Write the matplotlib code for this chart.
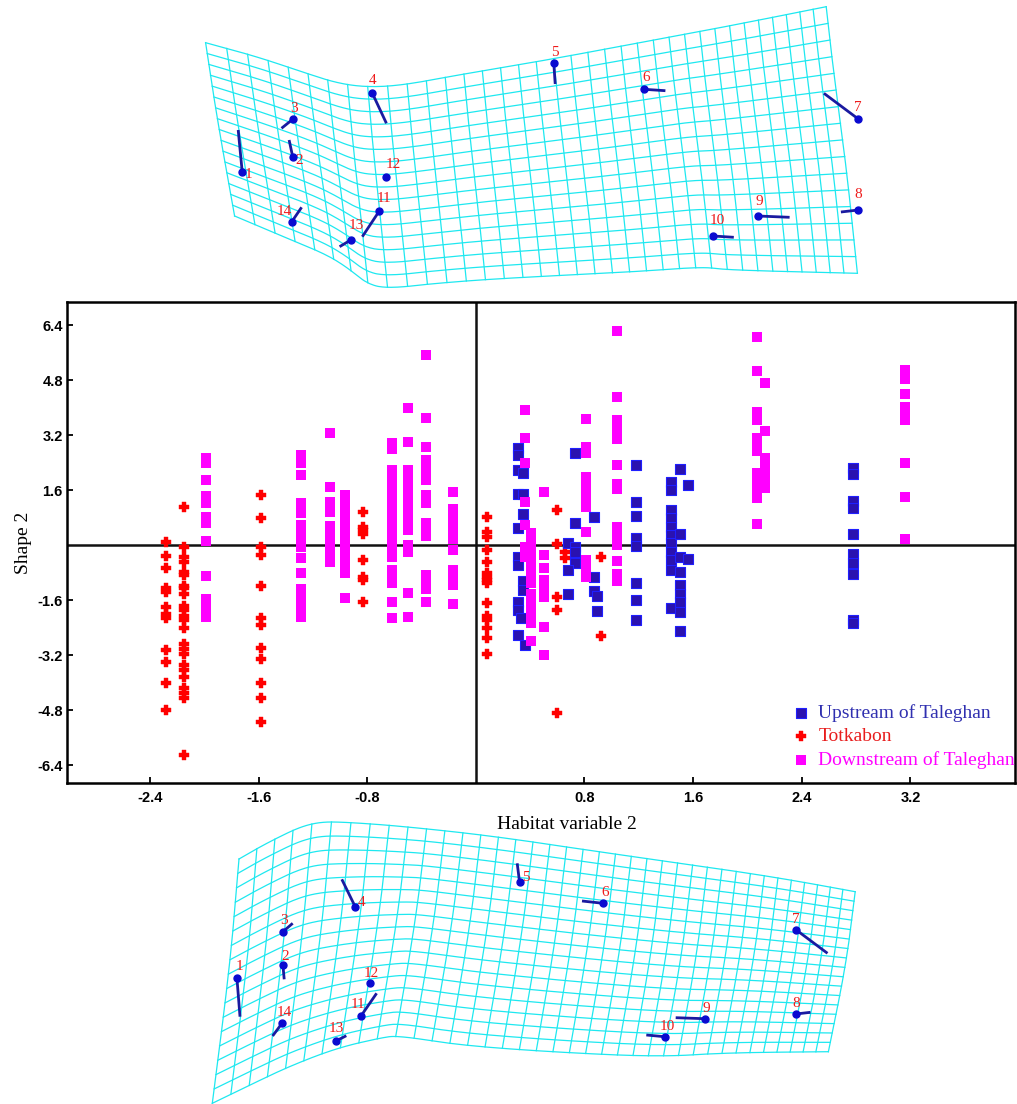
import numpy as np
import matplotlib.pyplot as plt

# ---------------- scatter data: Habitat variable 2 (x) vs Shape 2 (y) ----------------
# Upstream of Taleghan
up_x = [0.31, 0.31, 0.31, 0.35, 0.31, 0.35, 0.35, 0.31, 0.31, 0.31, 0.35, 0.35, 0.31, 0.31, 0.33, 0.31, 0.36,
        0.73, 0.73, 0.68, 0.73, 0.73, 0.73, 0.68, 0.68,
        0.87, 0.87, 0.87, 0.89, 0.89]
up_y = [2.81, 2.62, 2.18, 2.09, 1.50, 1.48, 0.90, 0.51, -0.35, -0.58, -1.05, -1.30, -1.65, -1.89, -2.13, -2.62, -2.91,
        2.67, 0.65, 0.07, -0.05, -0.19, -0.53, -0.73, -1.41,
        0.82, -0.93, -1.34, -1.47, -1.92]
up_cols = [1.18, 1.44, 1.50, 1.56, 2.78]
up_vals = [[2.32, 1.25, 0.85, 0.21, -0.03, -1.10, -1.59, -2.18],
           [1.84, 1.60, 1.02, 0.78, 0.53, 0.29, 0.05, -0.19, -0.44, -0.73, -1.82],
           [2.22, 0.33, -0.34, -0.78, -1.17, -1.41, -1.65, -1.94, -2.51],
           [1.74, -0.41],
           [2.23, 2.07, 1.29, 1.07, 0.33, -0.27, -0.53, -0.83, -2.18, -2.28]]

# Totkabon
tot_cols = [-2.28, -2.15, -1.585, -0.83, 0.085, 0.60, 0.66, 0.92]
tot_vals = [[0.10, -0.31, -0.68, -1.24, -1.36, -1.79, -2.01, -2.13, -3.05, -3.39, -4.01, -4.80],
            [1.11, -0.05, -0.36, -0.48, -0.78, -0.87, -1.18, -1.26, -1.41, -1.76, -1.89, -2.07, -2.18,
             -2.42, -2.88, -3.01, -3.17, -3.49, -3.64, -3.83, -4.17, -4.31, -4.46, -6.11],
            [1.45, 0.78, -0.07, -0.29, -1.18, -2.13, -2.33, -2.98, -3.32, -4.01, -4.46, -5.14],
            [0.97, 0.53, 0.44, 0.32, -0.42, -0.92, -1.02, -1.65],
            [0.82, 0.39, 0.24, -0.13, -0.49, -0.80, -0.92, -1.02, -1.11, -1.68, -2.07, -2.18, -2.41, -2.69, -3.17],
            [1.02, 0.03, -1.52, -1.89, -4.88],
            [-0.19, -0.39],
            [-0.34, -2.64]]

# Downstream of Taleghan
down_cols = [-1.99, -1.29, -1.07, -0.96, -0.62, -0.50, -0.37, -0.165, 0.36, 0.41, 0.50, 0.81, 1.04, 2.07, 2.13, 3.16]
down_vals = [[2.52, 2.38, 1.88, 1.43, 1.23, 0.83, 0.63, 0.11, -0.91, -1.58, -1.79, -2.09],
             [2.62, 2.39, 2.03, 1.21, 0.92, 0.58, 0.32, 0.05, -0.07, -0.38, -0.82, -1.29, -1.58, -1.87, -2.10],
             [3.27, 1.70, 1.26, 0.97, 0.56, 0.29, 0.0, -0.24, -0.50],
             [1.45, 1.16, 0.87, 0.58, 0.29, 0.0, -0.29, -0.53, -0.82, -1.53],
             [2.98, 2.78, 2.18, 1.89, 1.60, 1.31, 1.02, 0.73, 0.44, 0.15, -0.15, -0.34, -0.73, -0.97, -1.11, -1.65, -2.12],
             [4.00, 3.01, 2.18, 1.89, 1.60, 1.31, 1.02, 0.73, 0.44, 0.0, -0.19, -1.38, -2.10],
             [5.53, 3.69, 2.84, 2.47, 2.18, 1.89, 1.45, 1.21, 0.63, 0.39, 0.27, -0.87, -1.11, -1.28, -1.67],
             [1.54, 1.05, 0.76, 0.47, 0.17, -0.15, -0.73, -0.97, -1.16, -1.71],
             [3.94, 3.11, 2.38, 1.26, 0.58, -0.05, -0.34],
             [0.34, 0.05, -0.24, -0.53, -0.82, -1.11, -1.41, -1.70, -1.99, -2.28, -2.79],
             [1.54, -0.28, -0.66, -1.02, -1.26, -1.50, -2.38, -3.20],
             [3.67, 2.86, 2.67, 1.99, 1.70, 1.41, 1.11, 0.39, -0.44, -0.68, -0.92],
             [6.22, 4.31, 3.63, 3.39, 3.09, 2.32, 1.77, 1.62, 0.53, 0.29, 0.0, -0.47, -0.85, -1.04],
             [6.06, 5.06, 3.88, 3.64, 3.12, 2.91, 2.74, 2.11, 1.87, 1.63, 1.36, 0.60],
             [4.71, 3.31, 2.52, 2.28, 2.04, 1.79, 1.67],
             [5.10, 4.83, 4.39, 4.02, 3.78, 3.64, 2.39, 1.41, 0.19]]

xticks = [-2.4, -1.6, -0.8, 0.8, 1.6, 2.4, 3.2]
yticks = [6.4, 4.8, 3.2, 1.6, -1.6, -3.2, -4.8, -6.4]

# ---------------- deformation grids (picture pixel frame) ----------------
top_T = [(205.6, 42.7), (257, 56.7), (301.6, 71.7), (337.3, 83.3), (368.6, 87.3), (404.3, 85),
         (457.9, 75), (547.1, 60), (636.4, 43.3), (725.7, 26.7), (826.2, 6.7)]
top_B = [(234.6, 216), (279.3, 235), (323.9, 253.3), (346.3, 266.7), (368.6, 285), (390.9, 288.3),
         (435.5, 283.3), (502.5, 278.3), (636.4, 271.7), (703.4, 266.7), (725.7, 270), (857.4, 273.3)]
top_L = [(205.6, 42.7), (216.8, 116.7), (234.6, 216)]
top_R = [(826.2, 6.7), (832.9, 66.7), (846.3, 166.7), (857.4, 273.3)]

bot_T = [(239, 859), (258, 848), (277, 838), (300, 827), (320, 822), (343, 822), (400, 826),
         (493, 836), (600, 852), (700, 866), (780, 878), (855.2, 891.7)]
bot_B = [(212.3, 1103.3), (250, 1085), (290, 1066), (337, 1048), (380, 1038), (398, 1035.5),
         (458, 1045), (547, 1051.7), (659, 1057), (726, 1052.7), (828.4, 1051.7)]
bot_L = [(239, 859), (230.2, 963.3), (212.3, 1103.3)]
bot_R = [(855.2, 891.7), (846.3, 963.3), (828.4, 1051.7)]

# landmarks: dot, end of displacement vector, label position
lm_names = [str(i) for i in range(1, 15)]
top_dot = [(242.2, 171.7), (292.7, 156.7), (292.7, 119.3), (372.1, 92.7), (553.8, 63.3), (644, 89.3),
           (858.3, 119), (858.3, 210), (757.9, 216), (713.2, 236), (379.3, 211), (386.4, 176.7),
           (350.7, 240), (291.8, 221.7)]
top_end = [(238.2, 130), (289.1, 140), (281.5, 128.3), (386.4, 123.3), (555.2, 84), (665.4, 90.7),
           (823.9, 93.3), (840.9, 212), (789.6, 217.3), (733.8, 237.3), (362.3, 236.7), (384.6, 176.7),
           (339.6, 246.7), (301.6, 207.3)]
top_lab = [(248, 175), (299.4, 160), (293.6, 108.3), (373, 80), (554.7, 52.3), (646.2, 77.3),
           (858.3, 107.3), (858.3, 194), (759.2, 201.7), (716.8, 220), (384.2, 199), (393.1, 164),
           (356.1, 225.7), (284.6, 211.7)]
bot_dot = [(236.9, 977.7), (282.9, 965), (282.9, 931.7), (355.2, 906.7), (519.5, 881.7), (603, 903.3),
           (796.3, 930), (795.8, 1014), (704.7, 1018.7), (664.6, 1036.7), (361, 1016), (369.5, 983.3),
           (336, 1041), (282, 1023.3)]
bot_end = [(240, 1016.7), (284.2, 979.3), (292.7, 923.3), (341.8, 879.3), (517.2, 863.3), (582, 901),
           (827.5, 953.3), (810.5, 1012.3), (675.7, 1017.7), (646.3, 1035), (376.6, 993.3), (367.8, 983.3),
           (346.3, 1035.7), (272.6, 1036)]
bot_lab = [(239.1, 966.7), (285.1, 956), (283.8, 920), (361.9, 902.7), (525.7, 877.7), (605.2, 892.7),
           (796.3, 919.3), (795.8, 1003.3), (706.5, 1008.3), (667.7, 1026), (358.3, 1004.3), (370.8, 973.3),
           (336, 1028.3), (283.8, 1012.7)]

BLUE_FACE = '#2a12b0'
BLUE_EDGE = '#1f1fff'
RED = '#ff0000'
MAGENTA = '#ff00ff'
CYAN = '#1ee8f0'
SERIF = ['Liberation Serif', 'DejaVu Serif']


def expand(cols, vals):
    xs, ys = [], []
    for c, v in zip(cols, vals):
        xs += [c] * len(v)
        ys += v
    return xs, ys


def chaikin(pts, n=3):
    pts = np.asarray(pts, float)
    for _ in range(n):
        q = 0.75 * pts[:-1] + 0.25 * pts[1:]
        r = 0.25 * pts[:-1] + 0.75 * pts[1:]
        mid = np.empty((2 * len(q), 2))
        mid[0::2] = q
        mid[1::2] = r
        pts = np.vstack([pts[0], mid, pts[-1]])
    return pts


def resample(pts, t):
    pts = chaikin(pts)
    d = np.r_[0, np.cumsum(np.hypot(*np.diff(pts, axis=0).T))]
    d /= d[-1]
    return np.c_[np.interp(t, d, pts[:, 0]), np.interp(t, d, pts[:, 1])]


def coons(T, B, L, R, u, v):
    t, b = resample(T, u), resample(B, u)
    l, r = resample(L, v), resample(R, v)
    U = u[None, :, None]
    V = v[:, None, None]
    S = (1 - V) * t[None] + V * b[None] + (1 - U) * l[:, None] + U * r[:, None]
    S -= (1 - U) * (1 - V) * t[0] + U * (1 - V) * t[-1] + (1 - U) * V * b[0] + U * V * b[-1]
    return S


def draw_grid(ax, T, B, L, R, ncols, nrows):
    s = np.linspace(0, 1, ncols + 1)
    u_cols = s + 0.25 * s * (1 - s)          # columns a bit tighter towards the right
    v_rows = np.linspace(0, 1, nrows + 1)
    fine = np.linspace(0, 1, 300)
    rows = coons(T, B, L, R, fine, v_rows)
    cols = coons(T, B, L, R, u_cols, fine)
    for i in range(rows.shape[0]):
        ax.plot(rows[i, :, 0], rows[i, :, 1], color=CYAN, lw=0.9, zorder=1)
    for j in range(cols.shape[1]):
        ax.plot(cols[:, j, 0], cols[:, j, 1], color=CYAN, lw=0.9, zorder=1)


def draw_landmarks(ax, dots, ends, labs):
    for name, d, e, l in zip(lm_names, dots, ends, labs):
        ax.plot([d[0], e[0]], [d[1], e[1]], color='#1a1aa0', lw=2.0, zorder=3, solid_capstyle='butt')
        ax.plot(d[0], d[1], 'o', color='#0a0ad0', ms=5, zorder=4)
        ax.text(l[0], l[1], name, color='#ee1c1c', fontsize=11, family=SERIF,
                ha='center', va='center', zorder=5)


fig = plt.figure(figsize=(10.17, 11.04), dpi=100)

# background panel for the two thin-plate spline grids
ax_bg = fig.add_axes([0, 0, 1, 1], zorder=0)
ax_bg.set_xlim(0, 1017)
ax_bg.set_ylim(1104, 0)
ax_bg.axis('off')
draw_grid(ax_bg, top_T, top_B, top_L, top_R, 36, 16)
draw_grid(ax_bg, bot_T, bot_B, bot_L, bot_R, 38, 17)
draw_landmarks(ax_bg, top_dot, top_end, top_lab)
draw_landmarks(ax_bg, bot_dot, bot_end, bot_lab)

# main scatter
ax = fig.add_axes([67 / 1017, 1 - 783 / 1104, 948 / 1017, 481 / 1104], zorder=2)
ux, uy = expand(up_cols, up_vals)
ux = up_x + ux
uy = up_y + uy
tx, ty = expand(tot_cols, tot_vals)
dx, dy = expand(down_cols, down_vals)

h_tot = ax.scatter(tx, ty, marker='P', s=55, facecolor=RED, edgecolor=RED, linewidths=0.3, zorder=3,
                   label='Totkabon')
h_up = ax.scatter(ux, uy, marker='s', s=54, facecolor=BLUE_FACE, edgecolor=BLUE_EDGE, linewidths=0.8,
                  zorder=4, label='Upstream of Taleghan')
h_down = ax.scatter(dx, dy, marker='s', s=52, color=MAGENTA, linewidths=0, zorder=5,
                    label='Downstream of Taleghan')

ax.axhline(0, color='#111111', lw=1.8, zorder=2)
ax.axvline(0, color='#111111', lw=1.8, zorder=2)

ax.set_xlim(-3.01, 3.97)
ax.set_ylim(-6.92, 7.07)
ax.set_xticks(xticks)
ax.set_xticklabels([f'{t:.1f}' for t in xticks])
ax.set_yticks(yticks)
ax.set_yticklabels([f'{t:.1f}' for t in yticks])
ax.tick_params(direction='in', length=4, width=1.3, labelsize=10.5)
ax.tick_params(axis='x', pad=6)
ax.tick_params(axis='y', pad=3)
for lab in ax.get_xticklabels() + ax.get_yticklabels():
    lab.set_fontweight('bold')
    lab.set_family(['Liberation Sans', 'DejaVu Sans'])
for sp in ax.spines.values():
    sp.set_linewidth(1.8)

ax.set_xlabel('Habitat variable 2', fontsize=14, family=SERIF)
ax.set_ylabel('Shape 2', fontsize=14, family=SERIF)
ax.xaxis.set_label_coords(0.527, -0.068)
ax.yaxis.set_label_coords(-0.037, 0.5)

leg = ax.legend(handles=[h_up, h_tot, h_down], loc='upper left', bbox_to_anchor=(0.7638, 0.164),
                frameon=False, borderpad=0, borderaxespad=0, handlelength=1.0, handletextpad=0.4,
                labelspacing=0.30, scatterpoints=1, prop={'family': SERIF, 'size': 14},
                labelcolor=['#3030b0', '#e81c1c', MAGENTA])
leg.set_clip_on(False)

fig.savefig('out.png', dpi=100)
